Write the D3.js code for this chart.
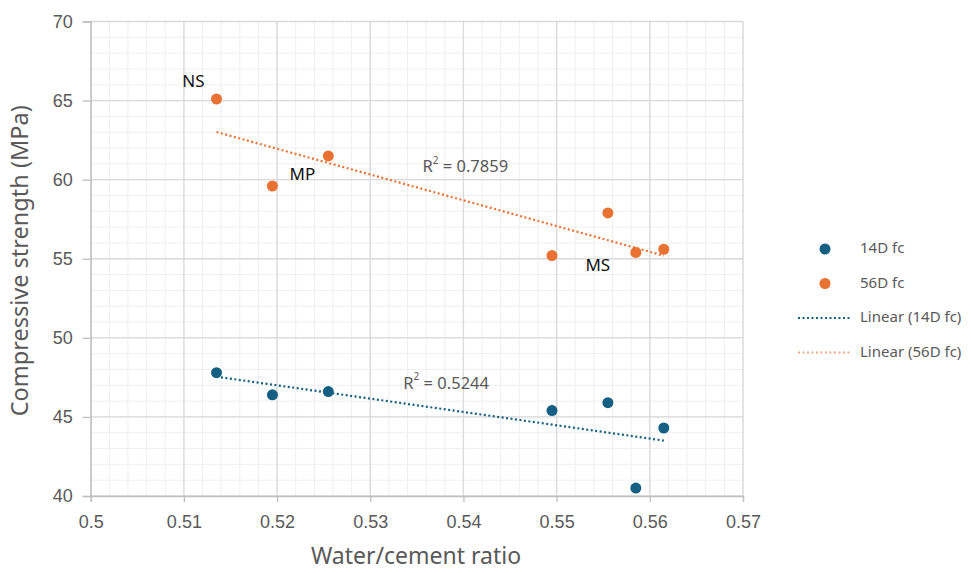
<!DOCTYPE html>
<html>
<head>
<meta charset="utf-8">
<script src="https://cdn.jsdelivr.net/npm/d3@7"></script>
<style>
  body { margin: 0; background: #fff; }
  svg { font-family: "Noto Sans", Arial, sans-serif; }
</style>
</head>
<body>
<svg id="chart"></svg>
<script>
// Data
const ratio = [0.5135, 0.5195, 0.5255, 0.5495, 0.5555, 0.5585, 0.5615];
const fc14 = [47.8, 46.4, 46.6, 45.4, 45.9, 40.5, 44.3];
const fc56 = [65.1, 59.6, 61.5, 55.2, 57.9, 55.4, 55.6];
const pointLabels = [
  { name: "NS", i: 0 },
  { name: "MP", i: 1 },
  { name: "MS", i: 5 }
];
const r2Labels = ["R² = 0.5244", "R² = 0.7859"];
const xTicks = [0.5, 0.51, 0.52, 0.53, 0.54, 0.55, 0.56, 0.57];
const yTicks = [40, 45, 50, 55, 60, 65, 70];

const width = 971, height = 573;
const margin = { top: 21.5, left: 90.7, right: 228, bottom: 77 };

const svg = d3.select("#chart").attr("width", width).attr("height", height);

const x = d3.scaleLinear().domain([0.5, 0.57]).range([margin.left, width - margin.right]);
const y = d3.scaleLinear().domain([40, 70]).range([height - margin.bottom, margin.top]);

const blue = "#156082", orange = "#E97132";

// minor grid
const g = svg.append("g");
g.selectAll(".xminor").data(d3.range(0, 36).map(i => 0.5 + i * 0.002))
  .join("line")
  .attr("x1", d => x(d)).attr("x2", d => x(d))
  .attr("y1", y(40)).attr("y2", y(70))
  .attr("stroke", "#efefef").attr("stroke-width", 1);
g.selectAll(".yminor").data(d3.range(40, 71, 1))
  .join("line")
  .attr("x1", x(0.5)).attr("x2", x(0.57))
  .attr("y1", d => y(d)).attr("y2", d => y(d))
  .attr("stroke", "#efefef").attr("stroke-width", 1);

// major grid
g.selectAll(".xmajor").data(xTicks)
  .join("line")
  .attr("x1", d => x(d)).attr("x2", d => x(d))
  .attr("y1", y(40)).attr("y2", y(70))
  .attr("stroke", "#d9d9d9").attr("stroke-width", 1.3);
g.selectAll(".ymajor").data(yTicks)
  .join("line")
  .attr("x1", x(0.5)).attr("x2", x(0.57))
  .attr("y1", d => y(d)).attr("y2", d => y(d))
  .attr("stroke", "#d9d9d9").attr("stroke-width", 1.3);

// axes
const xAxis = svg.append("g")
  .attr("transform", `translate(0,${y(40)})`)
  .call(d3.axisBottom(x).tickValues(xTicks).tickFormat(d3.format("~g")).tickSize(6).tickPadding(13));
const yAxis = svg.append("g")
  .attr("transform", `translate(${x(0.5)},0)`)
  .call(d3.axisLeft(y).tickValues(yTicks).tickSize(8).tickPadding(10));
[xAxis, yAxis].forEach(a => {
  a.select(".domain").attr("stroke", "#bfbfbf").attr("stroke-width", 1.3);
  a.selectAll(".tick line").attr("stroke", "#bfbfbf").attr("stroke-width", 1.3);
  a.selectAll(".tick text").attr("fill", "#595959")
    .style("font-family", "'Liberation Sans', Arial, sans-serif").style("font-size", "18px");
});

// trendlines (least squares)
function fit(xs, ys) {
  const mx = d3.mean(xs), my = d3.mean(ys);
  const sxy = d3.sum(xs, (v, i) => (v - mx) * (ys[i] - my));
  const sxx = d3.sum(xs, v => (v - mx) ** 2);
  const b = sxy / sxx;
  return v => my + b * (v - mx);
}
const x0 = d3.min(ratio), x1 = d3.max(ratio);
[[fc14, blue], [fc56, orange]].forEach(([ys, c]) => {
  const f = fit(ratio, ys);
  svg.append("line")
    .attr("x1", x(x0)).attr("y1", y(f(x0)))
    .attr("x2", x(x1)).attr("y2", y(f(x1)))
    .attr("stroke", c).attr("stroke-width", 2.2)
    .attr("stroke-dasharray", "2,2.5");
});

// points
[[fc14, blue], [fc56, orange]].forEach(([ys, c]) => {
  svg.append("g").selectAll("circle").data(ratio)
    .join("circle")
    .attr("cx", d => x(d)).attr("cy", (d, i) => y(ys[i]))
    .attr("r", 5.5).attr("fill", c);
});

// point labels
const labelOffset = { NS: [-23, -17], MP: [30, -11], MS: [-38, 14] };
svg.append("g").selectAll("text").data(pointLabels)
  .join("text")
  .attr("x", d => x(ratio[d.i]) + labelOffset[d.name][0])
  .attr("y", d => y(fc56[d.i]) + labelOffset[d.name][1])
  .attr("text-anchor", "middle").attr("dominant-baseline", "middle")
  .attr("fill", "#111").style("font-size", "17px")
  .text(d => d.name);

// R² labels
const r2Pos = [[0.53355, 47.05], [0.5356, 60.75]];
svg.append("g").selectAll("text").data(r2Labels)
  .join("text")
  .attr("x", (d, i) => x(r2Pos[i][0]))
  .attr("y", (d, i) => y(r2Pos[i][1]))
  .attr("dominant-baseline", "middle")
  .attr("fill", "#595959").style("font-size", "16.5px")
  .html(d => d.replace("R²", "R<tspan baseline-shift='super' font-size='10px'>2</tspan>"));

// axis titles
svg.append("text")
  .attr("transform", `translate(22,${(y(40) + y(70)) / 2 + 2}) rotate(-90)`)
  .attr("text-anchor", "middle").attr("dominant-baseline", "middle")
  .attr("fill", "#595959").style("font-size", "23.5px")
  .text("Compressive strength (MPa)");
svg.append("text")
  .attr("x", 416).attr("y", 558)
  .attr("text-anchor", "middle").attr("dominant-baseline", "middle")
  .attr("fill", "#595959").style("font-size", "23px")
  .text("Water/cement ratio");

// legend
const legendItems = [
  { label: "14D fc", type: "dot", c: blue },
  { label: "56D fc", type: "dot", c: orange },
  { label: "Linear (14D fc)", type: "line", c: blue },
  { label: "Linear (56D fc)", type: "line", c: orange }
];
const lg = svg.append("g").attr("transform", "translate(798,249)");
const item = lg.selectAll("g").data(legendItems).join("g")
  .attr("transform", (d, i) => `translate(0,${i * 34.5})`);
item.filter(d => d.type === "dot").append("circle")
  .attr("cx", 27).attr("cy", 0).attr("r", 5.5).attr("fill", d => d.c);
item.filter(d => d.type === "line").append("line")
  .attr("x1", 0).attr("x2", 52).attr("y1", 0).attr("y2", 0)
  .attr("stroke", d => d.c).attr("stroke-width", 2).attr("stroke-dasharray", "2,2.5")
  .attr("opacity", d => d.c === orange ? 0.6 : 1);
item.append("text")
  .attr("x", 62).attr("y", 0).attr("dominant-baseline", "middle")
  .attr("fill", "#595959").style("font-size", "15px")
  .text(d => d.label);
</script>
</body>
</html>
